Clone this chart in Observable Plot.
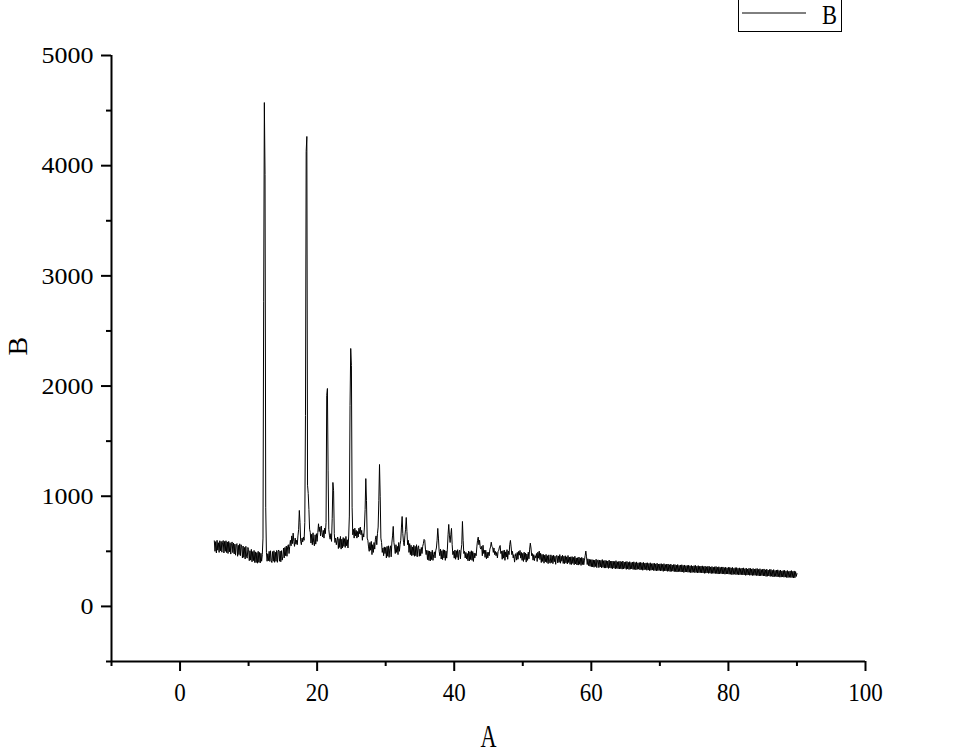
<!DOCTYPE html>
<html>
<head>
<meta charset="utf-8">
<script src="https://cdn.jsdelivr.net/npm/d3@7"></script>
<script src="https://cdn.jsdelivr.net/npm/@observablehq/plot@0.6"></script>
<style>
  body { margin: 0; background: #fff; }
  #wrap { position: relative; width: 966px; height: 755px; overflow: hidden; }
  #legend { position: absolute; left: 738px; top: -2px; width: 104px; height: 34px; border: 1px solid #000; box-sizing: border-box; background: #fff; }
  #legend svg { display: block; }
</style>
</head>
<body>
<div id="wrap">
  <div id="chart"></div>
  <div id="legend"></div>
</div>
<script>
// ---- Data ----
const seriesName = "B";
const xLabel = "A";
const yLabel = "B";
const angleStart = 5;      // first A value
const angleStep = 0.1;     // spacing of A samples
// intensity B, one row per unit of A (5.0 ... 89.9), then 90.0
const intensityB = [
  595, 500, 588, 485, 600, 510, 578, 490, 596, 505,
  590, 492, 582, 598, 485, 590, 500, 596, 488, 585,
  480, 590, 495, 578, 475, 570, 585, 488, 575, 476,
  565, 465, 560, 570, 455, 555, 470, 568, 460, 560,
  540, 440, 548, 445, 535, 430, 545, 450, 438, 535,
  515, 415, 505, 420, 518, 405, 498, 415, 508, 398,
  495, 398, 488, 392, 500, 400, 490, 395, 482, 410,
  470, 620, 2770, 4573, 3920, 900, 490, 410, 478, 415,
  500, 408, 505, 415, 398, 498, 410, 505, 400, 492,
  410, 508, 400, 498, 512, 410, 502, 405, 506, 420,
  450, 530, 440, 535, 460, 548, 455, 545, 560, 480,
  545, 600, 550, 640, 570, 665, 590, 545, 620, 565,
  600, 560, 640, 700, 871, 760, 590, 560, 620, 585,
  630, 600, 760, 1733, 4129, 4265, 1100, 1025, 880, 700,
  670, 575, 655, 560, 668, 580, 550, 650, 565, 660,
  590, 670, 750, 680, 720, 640, 730, 670, 630, 690,
  620, 710, 660, 760, 1915, 1978, 1230, 700, 640, 610,
  660, 590, 800, 1125, 1050, 660, 580, 620, 560, 600,
  630, 525, 615, 535, 635, 520, 610, 530, 625, 545,
  615, 535, 635, 550, 605, 530, 630, 820, 1824, 2341,
  2187, 900, 650, 700, 620, 710, 640, 690, 620, 680,
  630, 710, 660, 720, 650, 690, 600, 660, 630, 720,
  880, 1160, 960, 620, 600, 540, 500, 580, 510, 590,
  470, 560, 490, 580, 520, 610, 640, 560, 660, 720,
  960, 1288, 1000, 620, 580, 490, 530, 460, 540, 480,
  535, 440, 545, 455, 550, 445, 525, 550, 450, 575,
  640, 726, 580, 540, 480, 560, 490, 545, 470, 580,
  500, 560, 600, 720, 816, 660, 580, 550, 640, 700,
  807, 680, 560, 600, 490, 570, 470, 555, 460, 540,
  465, 555, 455, 545, 460, 560, 450, 535, 550, 455,
  520, 460, 535, 480, 545, 570, 608, 600, 520, 470,
  510, 425, 505, 418, 502, 412, 495, 425, 510, 418,
  470, 495, 440, 505, 530, 600, 708, 620, 500, 460,
  520, 430, 505, 425, 515, 440, 512, 418, 502, 438,
  520, 650, 744, 640, 580, 650, 708, 560, 470, 500,
  438, 512, 428, 505, 445, 515, 422, 495, 510, 432,
  510, 560, 771, 600, 480, 500, 440, 490, 430, 480,
  415, 502, 412, 495, 425, 505, 418, 498, 408, 485,
  440, 480, 460, 540, 600, 629, 560, 600, 530, 520,
  545, 460, 555, 480, 510, 445, 510, 432, 492, 440,
  490, 460, 520, 540, 583, 545, 538, 490, 530, 470,
  500, 460, 490, 440, 500, 510, 540, 553, 480, 500,
  428, 505, 438, 512, 418, 495, 448, 515, 428, 502,
  470, 560, 599, 540, 470, 500, 440, 470, 402, 450,
  480, 420, 490, 428, 500, 465, 508, 438, 490, 418,
  482, 408, 492, 425, 485, 402, 475, 418, 492, 432,
  520, 574, 530, 460, 480, 420, 470, 415, 460, 440,
  480, 408, 492, 438, 502, 425, 482, 398, 472, 408,
  472, 392, 465, 405, 472, 398, 460, 388, 468, 405,
  392, 468, 398, 460, 388, 465, 405, 455, 382, 460,
  462, 395, 458, 400, 470, 392, 455, 410, 465, 390,
  455, 388, 460, 395, 450, 385, 462, 398, 448, 382,
  450, 380, 452, 390, 445, 378, 455, 385, 440, 376,
  442, 375, 448, 382, 440, 372, 445, 380, 438, 378,
  420, 460, 502, 450, 380, 432, 370, 428, 365, 425,
  360, 425, 358, 422, 355, 420, 362, 428, 352, 418,
  422, 352, 420, 358, 418, 350, 425, 355, 415, 348,
  418, 348, 415, 352, 412, 345, 420, 350, 410, 346,
  412, 342, 410, 348, 408, 340, 415, 345, 405, 342,
  408, 340, 410, 342, 405, 338, 412, 340, 402, 345,
  405, 336, 408, 340, 400, 335, 406, 338, 398, 340,
  402, 335, 405, 336, 398, 332, 404, 336, 395, 338,
  398, 332, 400, 334, 395, 328, 400, 332, 392, 335,
  395, 328, 396, 330, 390, 325, 396, 328, 388, 330,
  390, 325, 392, 326, 386, 322, 392, 325, 384, 326,
  386, 322, 388, 324, 382, 318, 388, 322, 380, 322,
  384, 318, 385, 320, 378, 316, 384, 318, 376, 320,
  380, 315, 380, 316, 375, 312, 380, 315, 372, 316,
  376, 312, 378, 314, 372, 308, 376, 312, 370, 312,
  372, 310, 374, 310, 368, 306, 372, 308, 366, 310,
  370, 306, 372, 308, 365, 304, 370, 306, 364, 306,
  366, 304, 368, 304, 362, 300, 366, 302, 360, 304,
  364, 300, 364, 302, 358, 298, 362, 300, 356, 300,
  360, 298, 362, 298, 355, 294, 360, 296, 354, 298,
  358, 294, 358, 296, 352, 292, 356, 294, 350, 294,
  355, 292, 354, 292, 350, 288, 354, 290, 346, 292,
  352, 288, 352, 290, 346, 286, 350, 288, 344, 288,
  348, 286, 350, 286, 342, 282, 348, 284, 340, 286,
  346, 282, 346, 284, 340, 280, 344, 282, 338, 282,
  342, 280, 344, 280, 336, 276, 342, 278, 334, 280,
  338, 276, 340, 276, 332, 272, 338, 274, 330, 276,
  335, 272, 336, 274, 328, 268, 334, 270, 326, 272,
  330, 268, 332, 270, 325, 265, 330, 266, 322, 268,
  326, 265, 328, 266, 320, 262, 326, 262, 318, 264,
  322, 262, 325, 262, 318, 258, 322, 260, 316, 272,
  298
];
const xDomain = [-10, 100];
const yDomain = [-500, 5000];
const xMajorTicks = [0, 20, 40, 60, 80, 100];
const xMinorTicks = [-10, 10, 30, 50, 70, 90];
const yMajorTicks = [0, 1000, 2000, 3000, 4000, 5000];
const yMinorTicks = [-500, 500, 1500, 2500, 3500, 4500];

const data = intensityB.map((b, i) => ({A: +(angleStart + i * angleStep).toFixed(1), B: b}));

const font = "'Liberation Serif', 'Times New Roman', serif";

const chart = Plot.plot({
  width: 966,
  height: 755,
  marginLeft: 111,
  marginRight: 101,
  marginTop: 55,
  marginBottom: 94,
  style: {fontFamily: font, color: "#000", background: "#fff", overflow: "visible"},
  x: {domain: xDomain, label: null},
  y: {domain: yDomain, label: null},
  marks: [
    Plot.ruleY([yDomain[0]], {stroke: "#000", strokeWidth: 2}),
    Plot.ruleX([xDomain[0]], {stroke: "#000", strokeWidth: 2}),
    Plot.axisX(xMajorTicks, {tickSize: 10, tickPadding: 12, fontSize: 25, strokeWidth: 2, strokeOpacity: 1, tickFormat: "d", label: null}),
    Plot.axisX(xMinorTicks, {tickSize: 5, strokeWidth: 2, strokeOpacity: 1, text: null, label: null}),
    Plot.axisY(yMajorTicks, {tickSize: 10, tickPadding: 8, fontSize: 24, strokeWidth: 2, strokeOpacity: 1, tickFormat: "d", label: null}),
    Plot.axisY(yMinorTicks, {tickSize: 5, strokeWidth: 2, strokeOpacity: 1, text: null, label: null}),
    Plot.text([xLabel], {text: d => d, frameAnchor: "bottom", dy: 85, fontSize: 32, fill: "#000"}),
    Plot.text([yLabel], {text: d => d, frameAnchor: "left", dx: -93, dy: -3, rotate: -90, fontSize: 28, fill: "#000"}),
    Plot.line(data, {x: "A", y: "B", stroke: "#000", strokeWidth: 1})
  ]
});
document.getElementById("chart").appendChild(chart);

const svg = d3.select(chart);
// narrow, tall glyphs of the x tick labels
svg.selectAll('g[aria-label="x-axis tick label"] text').each(function() {
  const t = this.textContent;
  d3.select(this).attr("textLength", 11.5 * t.length).attr("lengthAdjust", "spacingAndGlyphs");
});
svg.selectAll('g[aria-label="y-axis tick label"] text').each(function() {
  const t = this.textContent;
  d3.select(this).attr("textLength", 13 * t.length).attr("lengthAdjust", "spacingAndGlyphs");
});
svg.selectAll('g[aria-label="text"] text').filter(function() { return this.textContent === xLabel; })
  .attr("textLength", 16).attr("lengthAdjust", "spacingAndGlyphs");

// legend
const lg = d3.select("#legend").append("svg").attr("width", 102).attr("height", 32);
lg.append("line").attr("x1", 3).attr("x2", 67).attr("y1", 14).attr("y2", 14).attr("stroke", "#000").attr("stroke-width", 1);
lg.append("text").attr("x", 83).attr("y", 25).attr("font-family", font).attr("font-size", 27)
  .attr("textLength", 15).attr("lengthAdjust", "spacingAndGlyphs").text(seriesName);
</script>
</body>
</html>
